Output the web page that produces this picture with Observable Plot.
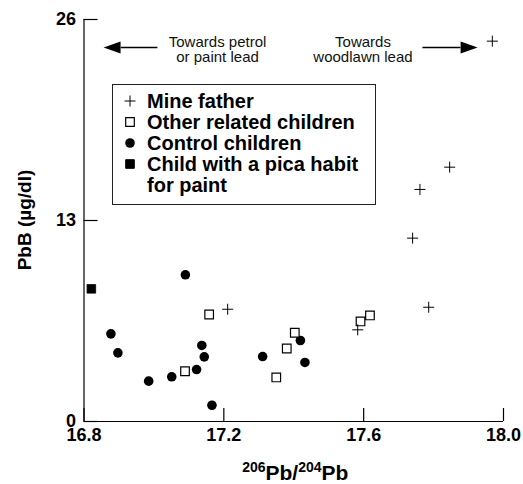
<!DOCTYPE html>
<html><head><meta charset="utf-8">
<script src="https://cdn.jsdelivr.net/npm/d3@7"></script>
<script src="https://cdn.jsdelivr.net/npm/@observablehq/plot@0.6"></script>
<style>body{margin:0;background:#fff;}</style>
</head><body><div id="chart"></div>
<script>
// ---- data ----
const mineFatherX = [17.211, 17.583, 17.740, 17.761, 17.786, 17.846, 17.968];
const mineFatherY = [7.26, 5.93, 11.86, 15.01, 7.39, 16.45, 24.6];
const otherChildX = [17.158, 17.089, 17.403, 17.380, 17.350, 17.591, 17.618];
const otherChildY = [6.92, 3.25, 5.74, 4.72, 2.85, 6.47, 6.86];
const controlX = [17.090, 16.877, 16.897, 17.137, 17.144, 17.122, 17.051, 16.985, 17.166, 17.419, 17.311, 17.432];
const controlY = [9.49, 5.67, 4.44, 4.92, 4.18, 3.36, 2.89, 2.61, 1.05, 5.24, 4.20, 3.82];
const picaX = [16.821];
const picaY = [8.58];
const xTicks = [16.8, 17.2, 17.6, 18.0];
const yTicks = [0, 13, 26];
const legendLabels = ["Mine father", "Other related children", "Control children", "Child with a pica habit\nfor paint"];
const annoLabels = ["Towards petrol\nor paint lead", "Towards\nwoodlawn lead"];
const annoX = [17.182, 17.598];
const annoY = [24.05, 24.05];
const arrowTipX = [16.856, 17.926];
const arrowTailX = [17.010, 17.768];
const arrowBaseX = [16.905, 17.877];
const arrowY = [24.19, 24.19];

const toPts = (xs, ys) => xs.map((x, i) => ({x, y: ys[i]}));

// ---- symbols ----
const plusSym = {draw(c){ c.moveTo(-5.5,0); c.lineTo(5.5,0); c.moveTo(0,-5.5); c.lineTo(0,5.5); }};
const squareSym = {draw(c){ c.moveTo(-4.3,-4.3); c.lineTo(4.3,-4.3); c.lineTo(4.3,4.3); c.lineTo(-4.3,4.3); c.closePath(); }};
const headLeft = {draw(c){ c.moveTo(0,0); c.lineTo(17,-6); c.lineTo(17,6); c.closePath(); }};
const headRight = {draw(c){ c.moveTo(0,0); c.lineTo(-17,-6); c.lineTo(-17,6); c.closePath(); }};

const FONT = "'Liberation Sans', Arial, Helvetica, sans-serif";

const plot = Plot.plot({
  width: 523, height: 484,
  marginLeft: 83.5, marginRight: 20, marginTop: 19, marginBottom: 63,
  style: {fontFamily: FONT, fontSize: "18px", fontWeight: "bold", color: "#000", background: "#fff"},
  x: {domain: [16.8, 18.0]},
  y: {domain: [0, 26]},
  marks: [
    Plot.ruleX([16.8], {stroke: "#000", strokeWidth: 1.2}),
    Plot.ruleY([0], {stroke: "#000", strokeWidth: 1.2}),
    Plot.axisX(xTicks, {tickSize: -13, tickFormat: () => "", label: null, strokeWidth: 1.2}),
    Plot.axisX(xTicks, {tickSize: 0, tickPadding: 7, tickFormat: d3.format(".1f"), label: null}),
    Plot.axisY(yTicks, {tickSize: -14, tickFormat: () => "", label: null, strokeWidth: 1.2}),
    Plot.axisY(yTicks, {tickSize: 0, tickPadding: 8, tickFormat: d3.format("d"), label: null}),
    // annotations
    Plot.text(annoLabels.map((t, i) => ({t, x: annoX[i], y: annoY[i]})), {x: "x", y: "y", text: "t", fontSize: 15, fontWeight: "normal", lineHeight: 0.97, fill: "#111"}),
    Plot.link(arrowTailX.map((x, i) => ({x1: x, x2: arrowBaseX[i], y: arrowY[i]})), {x1: "x1", x2: "x2", y1: "y", y2: "y", stroke: "#000", strokeWidth: 1.3}),
    Plot.dot([{x: arrowTipX[0], y: arrowY[0]}], {x: "x", y: "y", symbol: headLeft, fill: "#000", stroke: "none"}),
    Plot.dot([{x: arrowTipX[1], y: arrowY[1]}], {x: "x", y: "y", symbol: headRight, fill: "#000", stroke: "none"}),
    // data
    Plot.dot(toPts(controlX, controlY), {x: "x", y: "y", r: 4.8, fill: "#000", stroke: "none"}),
    Plot.dot(toPts(otherChildX, otherChildY), {x: "x", y: "y", symbol: squareSym, fill: "#fff", stroke: "#000", strokeWidth: 1.2}),
    Plot.dot(toPts(mineFatherX, mineFatherY), {x: "x", y: "y", symbol: plusSym, fill: "none", stroke: "#000", strokeWidth: 1}),
    Plot.dot(toPts(picaX, picaY), {x: "x", y: "y", symbol: squareSym, fill: "#000", stroke: "#000", strokeWidth: 0.8})
  ]
});
document.getElementById("chart").appendChild(plot);

const svg = d3.select(plot);
const xs = plot.scale("x"), ys = plot.scale("y");

// y label
svg.append("text")
  .attr("transform", `translate(31,${(ys.apply(0) + ys.apply(26)) / 2}) rotate(-90)`)
  .attr("text-anchor", "middle")
  .attr("font-size", 19).attr("font-weight", "bold").attr("fill", "#000")
  .text("PbB (µg/dl)");

// x label with superscripts
const xl = svg.append("text")
  .attr("x", (xs.apply(16.8) + xs.apply(18.0)) / 2 + 2)
  .attr("y", 480)
  .attr("text-anchor", "middle")
  .attr("font-size", 21).attr("font-weight", "bold").attr("fill", "#000");
xl.append("tspan").attr("font-size", 14).attr("dy", -8).text("206");
xl.append("tspan").attr("dy", 8).text("Pb/");
xl.append("tspan").attr("font-size", 14).attr("dy", -8).text("204");
xl.append("tspan").attr("dy", 8).text("Pb");

// legend
const lg = svg.append("g").attr("text-anchor", "start");
lg.append("rect").attr("x", 112.5).attr("y", 84.5).attr("width", 263).attr("height", 120)
  .attr("fill", "#fff").attr("stroke", "#222").attr("stroke-width", 1);
const symX = 130, txtX = 147, base0 = 108, step = 21;
const pathOf = s => { const p = d3.path(); s.draw(p); return p.toString(); };
lg.append("path").attr("transform", `translate(${symX},${base0 - 7})`).attr("d", pathOf(plusSym)).attr("stroke", "#000").attr("fill", "none");
lg.append("path").attr("transform", `translate(${symX},${base0 + step - 7})`).attr("d", pathOf(squareSym)).attr("stroke", "#000").attr("fill", "#fff").attr("stroke-width", 1.2);
lg.append("circle").attr("cx", symX).attr("cy", base0 + 2 * step - 7).attr("r", 4.8).attr("fill", "#000");
lg.append("path").attr("transform", `translate(${symX},${base0 + 3 * step - 7})`).attr("d", pathOf(squareSym)).attr("stroke", "#000").attr("fill", "#000");
let line = 0;
legendLabels.forEach(lbl => {
  lbl.split("\n").forEach(part => {
    lg.append("text").attr("x", txtX).attr("y", base0 + line * step).attr("text-anchor", "start")
      .attr("font-size", 20).attr("font-weight", "bold").attr("fill", "#000").text(part);
    line++;
  });
});
</script>
</body></html>
